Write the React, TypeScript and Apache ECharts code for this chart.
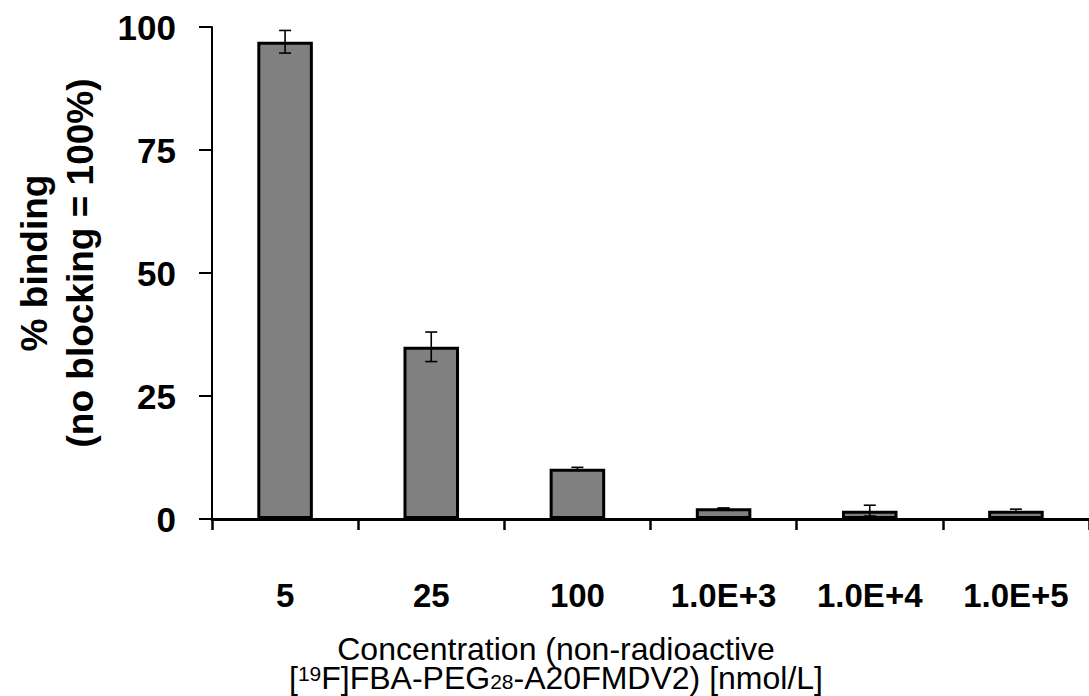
import React, { useEffect, useRef } from "react";
import * as echarts from "echarts";

const categories = ["5", "25", "100", "1.0E+3", "1.0E+4", "1.0E+5"];
const bindingMeans = [97, 35, 10.2, 2.2, 1.7, 1.7];
const bindingErrors = [2.3, 3.0, 0.3, 0, 1.1, 0.3];
const yTicks = [0, 25, 50, 75, 100];

const FONT = '"Liberation Sans", Arial, Helvetica, sans-serif';

export default function App() {
  const ref = useRef<HTMLDivElement>(null);

  useEffect(() => {
    if (!ref.current) return;
    const chart = echarts.init(ref.current, null, { renderer: "svg" });
    const errData = categories.map((c, i) => [i, bindingMeans[i], bindingErrors[i]]);
    chart.setOption({
      animation: false,
      backgroundColor: "#fff",
      grid: { left: 212, top: 27, width: 885, height: 492, containLabel: false },
      xAxis: {
        type: "category",
        data: categories,
        boundaryGap: true,
        axisLine: { lineStyle: { color: "#000", width: 3 } },
        axisTick: { show: true, alignWithLabel: false, length: 11, lineStyle: { color: "#000", width: 2.5 } },
        axisLabel: {
          color: "#000",
          fontFamily: FONT,
          fontWeight: "bold",
          fontSize: 33,
          margin: 60,
          interval: 0,
        },
      },
      yAxis: {
        type: "value",
        min: yTicks[0],
        max: yTicks[yTicks.length - 1],
        interval: 25,
        splitLine: { show: false },
        axisLine: { show: true, lineStyle: { color: "#000", width: 2 } },
        axisTick: { show: true, length: 13, lineStyle: { color: "#000", width: 2 } },
        axisLabel: {
          color: "#000",
          fontFamily: FONT,
          fontWeight: "bold",
          fontSize: 35,
          margin: 36,
        },
      },
      graphic: [
        {
          type: "text",
          x: 57,
          y: 263,
          rotation: Math.PI / 2,
          style: {
            text: "% binding\n(no blocking = 100%)",
            fill: "#000",
            font: `bold 37px ${FONT}`,
            align: "center",
            verticalAlign: "middle",
            lineHeight: 46,
          },
        },
        {
          type: "text",
          x: 556,
          y: 634,
          style: {
            text:
              "{n|Concentration (non-radioactive}\n{n|[}{sup|19}{n|F]FBA-PEG}{sub|28}{n|-A20FMDV2) [nmol/L]}",
            fill: "#000",
            font: `32px ${FONT}`,
            align: "center",
            verticalAlign: "top",
            rich: {
              n: { fontSize: 32, fontFamily: FONT, fill: "#000", lineHeight: 29 },
              sup: { fontSize: 21, fontFamily: FONT, fill: "#000", lineHeight: 19, verticalAlign: "top", padding: [0, 0, 9, 0] },
              sub: { fontSize: 21, fontFamily: FONT, fill: "#000", lineHeight: 19, verticalAlign: "bottom", padding: [7, 0, 0, 0] },
            },
          },
        },
      ],
      series: [
        {
          type: "bar",
          data: bindingMeans,
          barWidth: "38%",
          itemStyle: { color: "#808080", borderColor: "#000", borderWidth: 3 },
          z: 2,
        },
        {
          type: "custom",
          data: errData,
          z: 5,
          renderItem: (params: any, api: any) => {
            const x = api.value(0);
            const m = api.value(1);
            const e = api.value(2);
            const top = api.coord([x, m + e]);
            const bot = api.coord([x, m - e]);
            const hw = 6;
            const st = { stroke: "#000", lineWidth: 1.6 };
            return {
              type: "group",
              children: [
                { type: "line", shape: { x1: top[0], y1: top[1], x2: bot[0], y2: bot[1] }, style: st },
                { type: "line", shape: { x1: top[0] - hw, y1: top[1], x2: top[0] + hw, y2: top[1] }, style: st },
                { type: "line", shape: { x1: bot[0] - hw, y1: bot[1], x2: bot[0] + hw, y2: bot[1] }, style: st },
              ],
            };
          },
        },
      ],
    });
    return () => chart.dispose();
  }, []);

  return (
    <div
      ref={ref}
      style={{ position: "absolute", left: 0, top: 0, width: 1089, height: 696, background: "#fff" }}
    />
  );
}
